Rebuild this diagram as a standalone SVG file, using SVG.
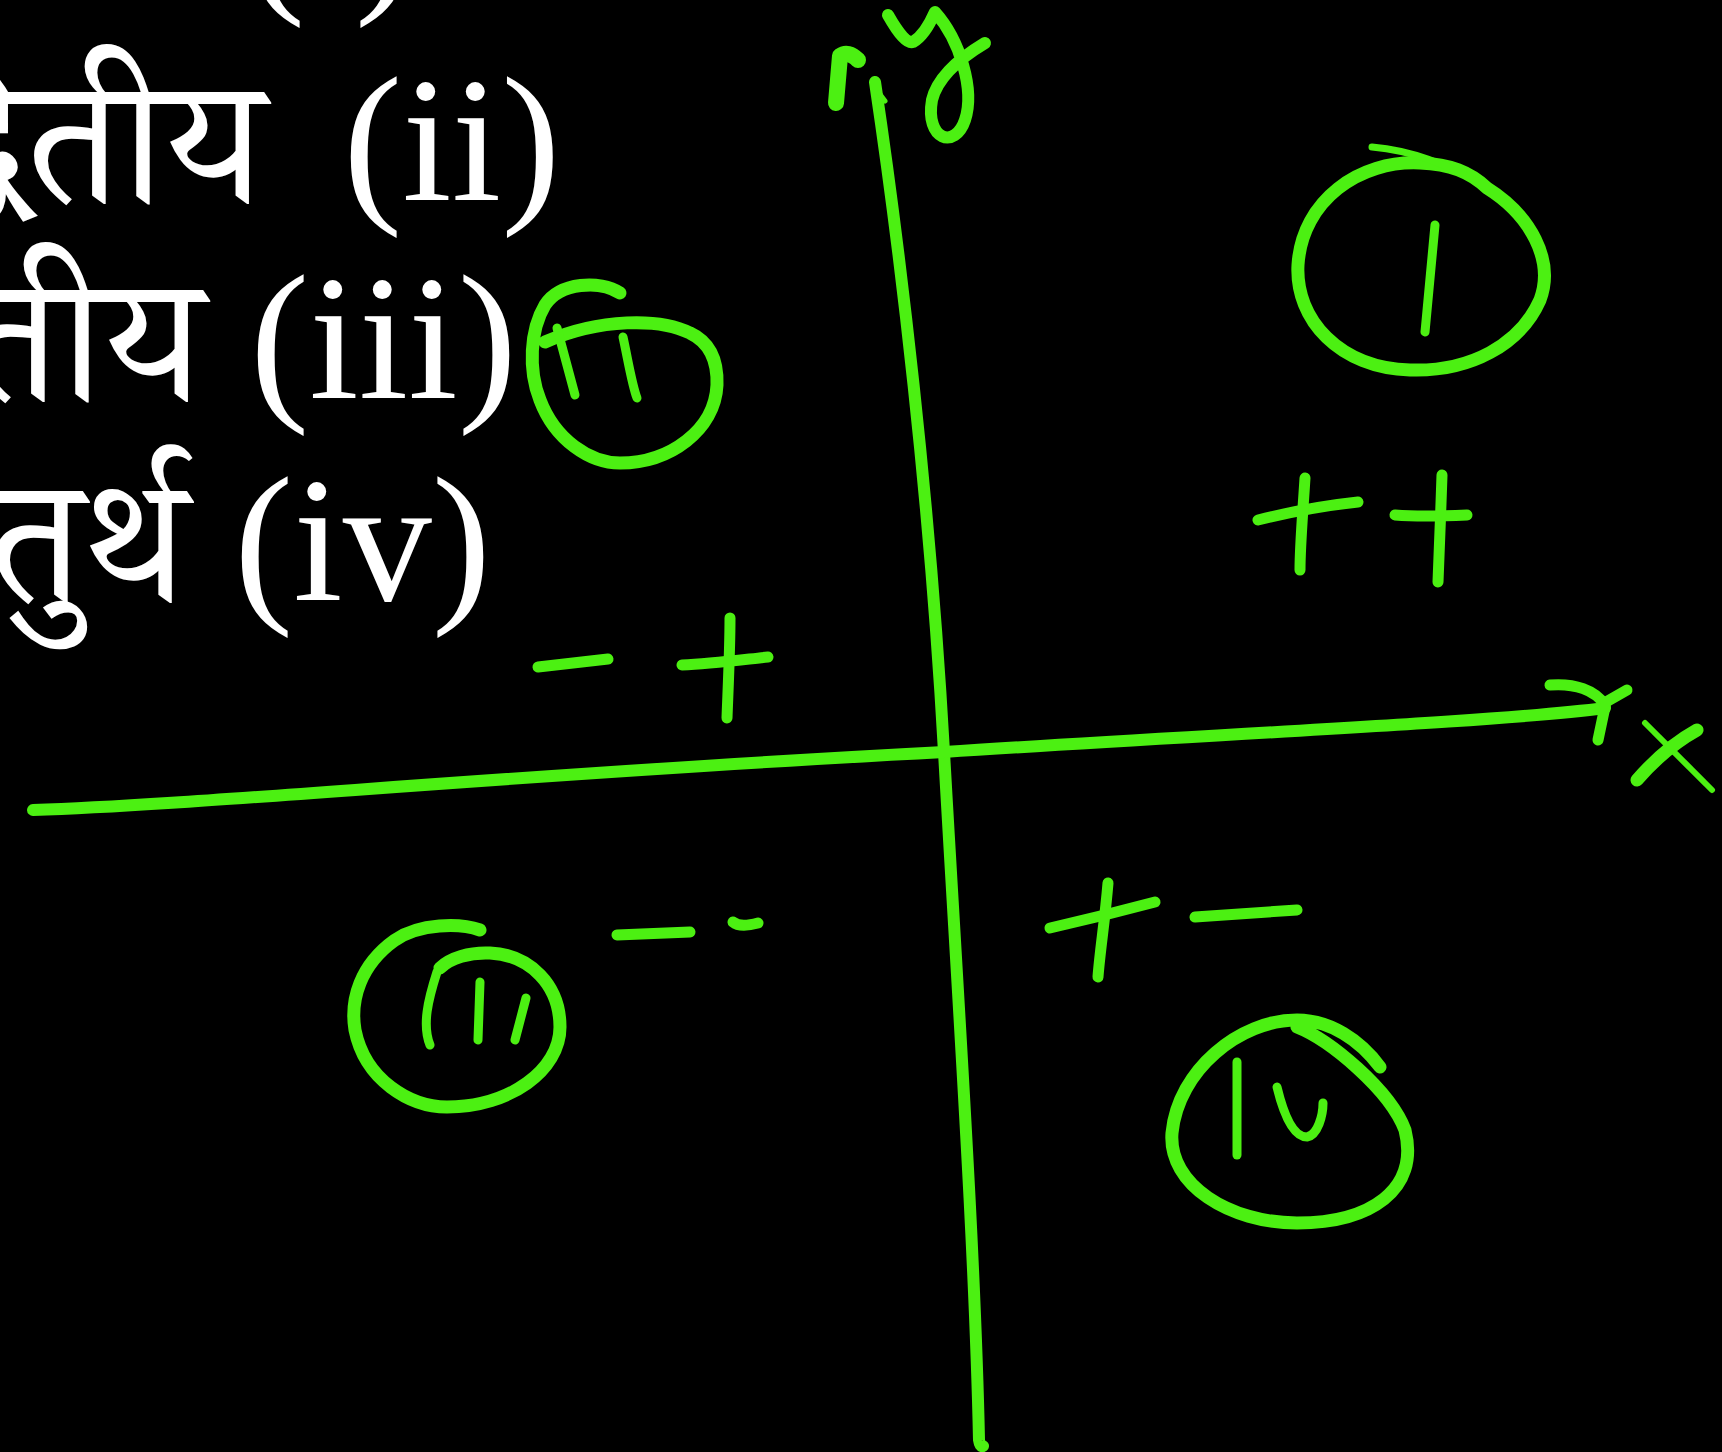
<svg xmlns="http://www.w3.org/2000/svg" width="1722" height="1452" viewBox="0 0 1722 1452">
<style>
.bg{fill:#000}
.t{fill:#fff;font-family:"Liberation Serif","Times New Roman",serif;font-size:178px}
.d{fill:#fff;font-family:"Noto Serif Devanagari","Noto Sans Devanagari","Lohit Devanagari","Noto Sans",sans-serif;font-size:178px}
.g{fill:none;stroke:#4cf012;stroke-linecap:round;stroke-linejoin:round}
.ax{stroke-width:12}
.c{stroke-width:13}
.n{stroke-width:9}
.s{stroke-width:11}
</style>
<rect class="bg" x="0" y="0" width="1722" height="1452"/>
<g id="labels">
  <text class="d" x="200" y="-10" text-anchor="end">प्रथम</text>
  <text class="t" x="246" y="-10">(i)</text>
  <text class="d" x="264" y="203" text-anchor="end">द्वितीय</text>
  <text class="t" x="343" y="200">(ii)</text>
  <text class="d" x="203" y="401" text-anchor="end">तृतीय</text>
  <text class="t" x="250" y="398">(iii)</text>
  <text class="d" x="187" y="602" text-anchor="end">चतुर्थ</text>
  <text class="t" x="234" y="600">(iv)</text>
</g>
<g id="connectors">
  <g id="y-axis">
    <path class="g ax" d="M875,82 C900,250 930,500 944,752 C958,1000 975,1250 979,1440 Q980,1447 983,1446"/>
    <path class="g" stroke-width="16" d="M836,103 L840,56 Q848,50 858,60"/>
    <path class="g" stroke-width="5" d="M879,93 L885,101"/>
    <path class="g" stroke-width="12" d="M888,15 Q905,45 913,42 Q925,35 935,12 C960,40 975,90 965,120 C955,150 925,140 932,100 C938,75 965,55 985,43"/>
  </g>
  <g id="x-axis">
    <path class="g ax" d="M33,810 C200,805 500,775 944,752 C1200,735 1500,722 1605,708"/>
    <path class="g s" d="M1550,685 C1575,683 1595,690 1605,705"/>
    <path class="g s" d="M1627,690 L1606,702 L1598,740"/>
    <path class="g" stroke-width="6" d="M1645,723 L1712,790"/>
    <path class="g" stroke-width="13" d="M1697,730 C1670,745 1650,765 1637,780"/>
  </g>
</g>
<g id="quadrant-1">
  <path class="g c" d="M1487,188 C1530,215 1555,260 1540,300 C1520,345 1470,372 1410,370 C1340,368 1295,320 1298,265 C1302,200 1360,160 1420,163 C1450,164 1470,172 1487,188 Z"/>
  <path class="g" stroke-width="7" d="M1372,147 Q1430,152 1487,188"/>
  <path class="g n" d="M1435,225 L1425,332"/>
  <path class="g s" d="M1258,520 C1290,512 1330,505 1358,502"/>
  <path class="g s" d="M1305,478 C1303,510 1300,545 1300,570"/>
  <path class="g s" d="M1395,515 C1420,517 1445,516 1467,515"/>
  <path class="g s" d="M1442,475 C1441,510 1439,550 1438,582"/>
</g>
<g id="quadrant-2">
  <path class="g c" d="M620,293 C600,280 560,282 545,305 C530,330 528,370 540,400 C555,440 590,463 620,463 C670,463 715,430 717,385 C718,355 705,340 690,333 C660,318 600,318 545,342"/>
  <path class="g n" d="M557,328 L575,395"/>
  <path class="g n" d="M623,337 C628,360 632,385 637,398"/>
  <path class="g s" d="M538,667 L608,659"/>
  <path class="g s" d="M682,665 C710,664 740,660 768,657"/>
  <path class="g s" d="M730,618 C730,650 728,690 727,718"/>
</g>
<g id="quadrant-3">
  <path class="g c" d="M480,930 C460,923 420,923 395,940 C360,965 350,1000 355,1030 C365,1080 410,1107 447,1107 C510,1107 560,1070 560,1027 C560,985 530,955 490,953 C470,952 450,958 440,968"/>
  <path class="g n" d="M437,972 C428,1000 422,1025 430,1045"/>
  <path class="g n" d="M480,982 L478,1040"/>
  <path class="g n" d="M526,998 L515,1040"/>
  <path class="g s" d="M617,935 L690,932"/>
  <path class="g s" d="M733,922 Q740,928 758,923"/>
</g>
<g id="quadrant-4">
  <path class="g c" d="M1297,1027 C1330,1040 1390,1090 1405,1130 C1420,1190 1370,1223 1297,1223 C1230,1223 1168,1185 1172,1133 C1178,1070 1240,1020 1297,1020 C1330,1020 1360,1040 1380,1067"/>
  <path class="g n" d="M1237,1062 L1237,1155"/>
  <path class="g n" d="M1277,1087 C1285,1120 1295,1137 1307,1137 C1318,1135 1323,1115 1323,1103"/>
  <path class="g s" d="M1050,928 C1085,920 1125,910 1155,902"/>
  <path class="g s" d="M1108,883 C1105,920 1100,950 1098,977"/>
  <path class="g s" d="M1195,917 L1297,910"/>
</g>
</svg>
